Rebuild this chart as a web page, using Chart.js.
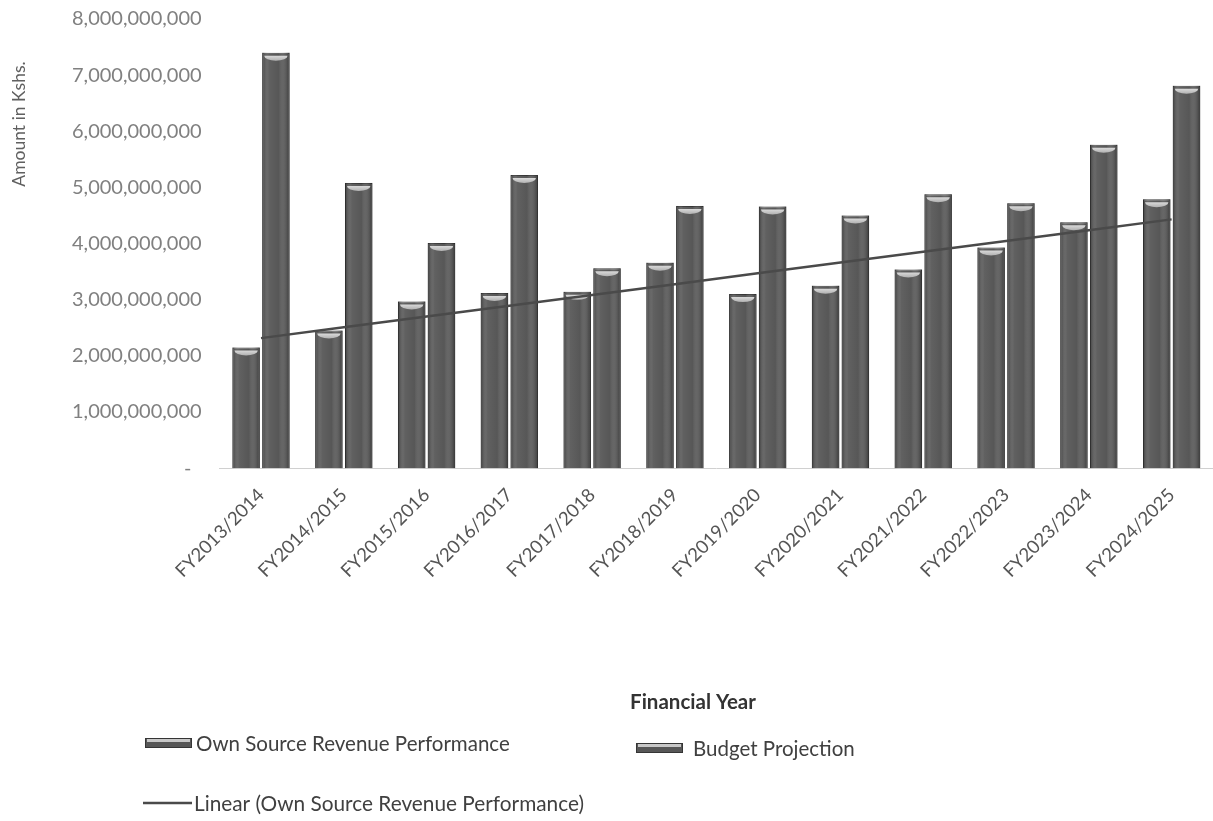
<!DOCTYPE html>
<html>
<head>
<meta charset="utf-8">
<script src="https://cdn.jsdelivr.net/npm/chart.js@4.4.1/dist/chart.umd.min.js"></script>
<style>
  html, body { margin: 0; padding: 0; background: #fff; }
  #wrap { width: 1213px; height: 821px; }
</style>
</head>
<body>
<div id="wrap"><canvas id="revChart" width="1213" height="821"></canvas></div>
<script>
// values (Kshs.)
var years = ['FY2013/2014', 'FY2014/2015', 'FY2015/2016', 'FY2016/2017', 'FY2017/2018', 'FY2018/2019',
  'FY2019/2020', 'FY2020/2021', 'FY2021/2022', 'FY2022/2023', 'FY2023/2024', 'FY2024/2025'];
var ownSource = [2.15e9, 2.45e9, 2.97e9, 3.12e9, 3.14e9, 3.66e9, 3.10e9, 3.25e9, 3.54e9, 3.93e9, 4.38e9, 4.79e9];
var budget = [7.40e9, 5.08e9, 4.01e9, 5.22e9, 3.56e9, 4.67e9, 4.66e9, 4.50e9, 4.88e9, 4.72e9, 5.76e9, 6.81e9];
var yMax = 8e9;
var yStep = 1e9;

var seriesNames = ['Own Source Revenue Performance', 'Budget Projection', 'Linear (Own Source Revenue Performance)'];

// Excel style linear trendline (least squares over the category index)
function linearTrend(vals) {
  var n = vals.length, sx = 0, sy = 0, sxy = 0, sxx = 0;
  for (var i = 0; i < n; i++) {
    sx += i; sy += vals[i]; sxy += i * vals[i]; sxx += i * i;
  }
  var slope = (n * sxy - sx * sy) / (n * sxx - sx * sx);
  var icpt = (sy - slope * sx) / n;
  return vals.map(function (v, i) { return icpt + slope * i; });
}

var FONT = 'Lato, "Liberation Sans", sans-serif';
var barFill = '#575757';
var barEdge = '#353535';

// shading + light cap on top of each bar, drawn right after each bar dataset
var cylinderLook = {
  id: 'cylinderLook',
  afterDatasetDraw: function (chart, args) {
    var meta = args.meta;
    if (meta.type !== 'bar') return;
    var ctx = chart.ctx;
    ctx.save();
    meta.data.forEach(function (bar) {
      var w = bar.width, left = bar.x - w / 2, top = bar.y, h = bar.base - bar.y;
      var g = ctx.createLinearGradient(left, 0, left + w, 0);
      g.addColorStop(0, 'rgba(20,20,20,0.45)');
      g.addColorStop(0.25, 'rgba(255,255,255,0.06)');
      g.addColorStop(0.6, 'rgba(255,255,255,0.0)');
      g.addColorStop(1, 'rgba(20,20,20,0.5)');
      ctx.fillStyle = g;
      ctx.fillRect(left, top, w, h);
      // cap
      var cg = ctx.createLinearGradient(0, top, 0, top + 9);
      cg.addColorStop(0, '#f2f2f2');
      cg.addColorStop(1, '#a9a9a9');
      ctx.fillStyle = cg;
      ctx.beginPath();
      ctx.ellipse(bar.x, top + 3, w / 2 - 2, 5, 0, 0, Math.PI);
      ctx.fill();
    });
    ctx.restore();
  }
};

// axis titles and legend laid out like the scanned page
var pageText = {
  id: 'pageText',
  afterDraw: function (chart) {
    var ctx = chart.ctx;
    ctx.save();
    // y title
    ctx.translate(19, 124);
    ctx.rotate(-Math.PI / 2);
    ctx.font = '17.5px ' + FONT;
    ctx.fillStyle = '#606060';
    ctx.textAlign = 'center';
    ctx.textBaseline = 'middle';
    ctx.fillText('Amount in Kshs.', 0, 0);
    ctx.restore();

    ctx.save();
    ctx.font = 'bold 20.5px ' + FONT;
    ctx.fillStyle = '#333';
    ctx.textAlign = 'center';
    ctx.textBaseline = 'middle';
    ctx.fillText('Financial Year', 693, 702);

    function barIcon(x, y) {
      ctx.fillStyle = barFill;
      ctx.fillRect(x, y - 5, 47, 10);
      ctx.strokeStyle = barEdge;
      ctx.lineWidth = 1;
      ctx.strokeRect(x + 0.5, y - 4.5, 46, 9);
      ctx.fillStyle = '#c8c8c8';
      ctx.fillRect(x + 2, y - 4, 43, 3);
    }
    ctx.font = '20.5px ' + FONT;
    ctx.textAlign = 'left';
    barIcon(145, 743);
    ctx.fillStyle = '#404040';
    ctx.fillText(seriesNames[0], 196, 744);
    barIcon(636, 748);
    ctx.fillStyle = '#404040';
    ctx.fillText(seriesNames[1], 693, 749);
    ctx.strokeStyle = '#4a4a4a';
    ctx.lineWidth = 2.5;
    ctx.beginPath();
    ctx.moveTo(143, 803);
    ctx.lineTo(192, 803);
    ctx.stroke();
    ctx.font = '20.8px ' + FONT;
    ctx.fillText(seriesNames[2], 194, 804);
    ctx.restore();
  }
};

var ctx = document.getElementById('revChart').getContext('2d');
var revChart = new Chart(ctx, {
  type: 'bar',
  data: {
    labels: years,
    datasets: [{
      type: 'line',
      label: seriesNames[2],
      data: linearTrend(ownSource),
      borderColor: '#4a4a4a',
      borderWidth: 2.5,
      pointRadius: 0,
      fill: false,
      order: 0
    }, {
      label: seriesNames[0],
      data: ownSource,
      backgroundColor: barFill,
      borderColor: barEdge,
      borderWidth: 1,
      categoryPercentage: 0.72,
      barPercentage: 0.92,
      order: 1
    }, {
      label: seriesNames[1],
      data: budget,
      backgroundColor: barFill,
      borderColor: barEdge,
      borderWidth: 1,
      categoryPercentage: 0.72,
      barPercentage: 0.92,
      order: 1
    }]
  },
  options: {
    responsive: false,
    animation: false,
    layout: {
      padding: { top: 19, left: 54, right: 0, bottom: 223 }
    },
    plugins: {
      legend: { display: false },
      title: { display: false },
      tooltip: { enabled: false }
    },
    scales: {
      x: {
        grid: { display: false, drawTicks: false },
        border: { display: true, color: '#d0d0d0', width: 1 },
        ticks: {
          color: '#555555',
          font: { family: FONT, size: 18.5 },
          minRotation: 45,
          maxRotation: 45,
          padding: 16
        }
      },
      y: {
        min: 0,
        max: yMax,
        grid: { display: false, drawTicks: false },
        border: { display: false },
        // tick padding otherwise pushes the plot top down
        afterFit: function (scale) {
          scale.paddingTop = 12;
          scale.paddingBottom = 12;
        },
        ticks: {
          stepSize: yStep,
          color: '#808080',
          padding: 18,
          font: { family: FONT, size: 20 },
          callback: function (v) {
            return v === 0 ? '-  ' : v.toLocaleString('en-US');
          }
        }
      }
    }
  },
  plugins: [cylinderLook, pageText]
});
</script>
</body>
</html>
